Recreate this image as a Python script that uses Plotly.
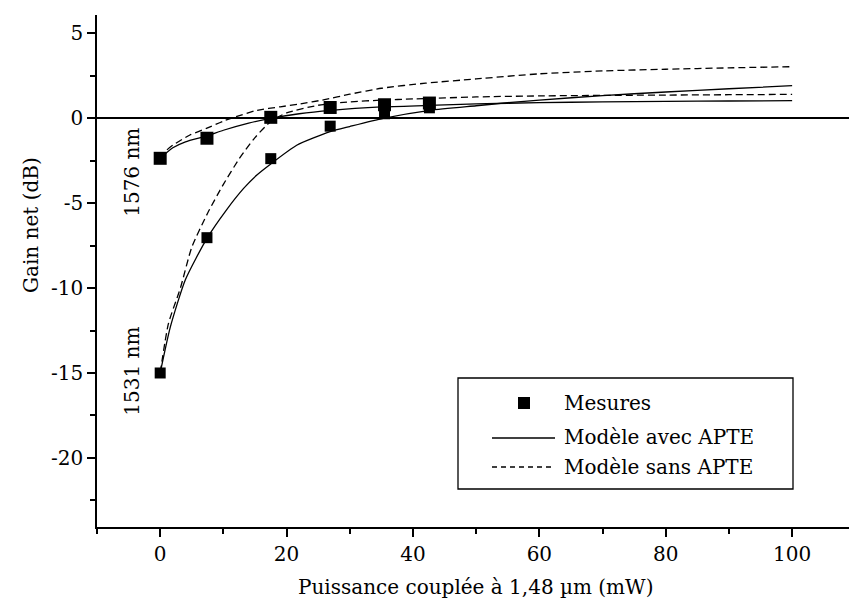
import plotly.graph_objects as go

# Measured net gain (dB) versus coupled pump power (mW)
power_meas = [0, 7.4, 17.5, 26.9, 35.5, 42.6]
gain_1576_meas = [-2.37, -1.19, 0.04, 0.62, 0.78, 0.88]
gain_1531_meas = [-15.0, -7.04, -2.39, -0.48, 0.25, 0.60]

# Model with APTE (solid curves)
power_avec_1576 = [0, 2, 4, 7.4, 10, 14, 17.5, 22, 27, 35, 42.5, 50, 60, 70, 80, 90, 100]
gain_avec_1576 = [-2.37, -1.75, -1.4, -1.05, -0.72, -0.3, -0.02, 0.25, 0.45, 0.65, 0.74, 0.83, 0.9, 0.95, 0.98, 1.0, 1.02]
power_avec_1531 = [0, 1.6, 4, 7.4, 10.5, 13.2, 15.3, 17.5, 21.6, 26.9, 30, 35.3, 42.7, 50, 55, 60, 70, 80, 90, 100]
gain_avec_1531 = [-15.0, -12.3, -9.5, -7.08, -5.4, -4.14, -3.35, -2.7, -1.6, -0.8, -0.5, -0.02, 0.45, 0.72, 0.9, 1.05, 1.32, 1.53, 1.72, 1.9]

# Model without APTE (dashed curves)
power_sans_1576 = [0, 1, 2, 4.7, 7.4, 10, 12, 15.3, 19, 22, 26, 30, 35, 42, 50, 60, 70, 80, 90, 100]
gain_sans_1576 = [-2.37, -1.9, -1.6, -1.0, -0.6, -0.18, 0.08, 0.45, 0.66, 0.82, 1.08, 1.4, 1.75, 2.05, 2.3, 2.6, 2.77, 2.87, 2.95, 3.02]
power_sans_1531 = [0, 1.3, 3.2, 5, 7.5, 10, 12.5, 15, 17.5, 20, 25, 30, 35, 40, 50, 60, 70, 80, 90, 100]
gain_sans_1531 = [-15.0, -12.1, -10.0, -7.6, -5.6, -3.9, -2.4, -1.15, -0.2, 0.3, 0.75, 0.95, 1.05, 1.12, 1.24, 1.3, 1.33, 1.35, 1.37, 1.39]

# Axis ticks and texts
x_tick_vals = [0, 20, 40, 60, 80, 100]
y_tick_vals = [-20, -15, -10, -5, 0, 5]
y_tick_text = ["-20", "-15", "-10", "-5", "0", "5"]
legend_labels = ["Mesures", "Modèle avec APTE", "Modèle sans APTE"]
curve_labels = ["1576 nm", "1531 nm"]
x_title = "Puissance couplée à 1,48 µm (mW)"
y_title = "Gain net (dB)"

FONT = "DejaVu Serif"
FS = 20
W, H = 849, 599
L, T, B = 97, 15, 72
PW, PH = W - L, H - T - B

def px(x):
    return (x - L) / PW

def py(y):
    return (H - B - y) / PH

fig = go.Figure()

for xs, ys, dash in [
    (power_avec_1576, gain_avec_1576, "solid"),
    (power_avec_1531, gain_avec_1531, "solid"),
    (power_sans_1576, gain_sans_1576, "7px,4px"),
    (power_sans_1531, gain_sans_1531, "7px,4px"),
]:
    fig.add_trace(go.Scatter(x=xs, y=ys, mode="lines",
                             line=dict(color="black", width=1.3, dash=dash, shape="spline", smoothing=0.6),
                             showlegend=False, hoverinfo="skip"))

fig.add_trace(go.Scatter(x=power_meas, y=gain_1576_meas, mode="markers",
                         marker=dict(symbol="square", size=13, color="black"), showlegend=False))
fig.add_trace(go.Scatter(x=power_meas, y=gain_1531_meas, mode="markers",
                         marker=dict(symbol="square", size=11, color="black"), showlegend=False))

# Curve labels next to the starting points
for lbl, yy in zip(curve_labels, [-3.2, -14.9]):
    fig.add_annotation(x=-4.4, y=yy, xref="x", yref="y", text=lbl, textangle=-90, showarrow=False,
                       xanchor="center", yanchor="middle", font=dict(family=FONT, size=FS, color="black"))

# Legend box
shapes = [
    dict(type="rect", x0=px(458), x1=px(793), y0=py(489), y1=py(378),
         line=dict(color="black", width=1.3), fillcolor="white"),
    dict(type="rect", x0=px(518), x1=px(530), y0=py(409), y1=py(397),
         line=dict(width=0), fillcolor="black"),
    dict(type="line", x0=px(492), x1=px(555), y0=py(438), y1=py(438),
         line=dict(color="black", width=1.3)),
    dict(type="line", x0=px(492), x1=px(555), y0=py(467), y1=py(467),
         line=dict(color="black", width=1.3, dash="5px,4px")),
]
for s in shapes:
    fig.add_shape(xref="paper", yref="paper", layer="above", **s)
for lbl, yy in zip(legend_labels, [403, 437, 467]):
    fig.add_annotation(x=px(562), y=py(yy), xref="paper", yref="paper", text=lbl, showarrow=False,
                       xanchor="left", yanchor="middle", font=dict(family=FONT, size=FS, color="black"))

# Axis titles
fig.add_annotation(x=px(31), y=py(225), xref="paper", yref="paper", text=y_title, textangle=-90,
                   showarrow=False, xanchor="center", yanchor="middle",
                   font=dict(family=FONT, size=FS, color="black"))
fig.add_annotation(x=px(475), y=py(587), xref="paper", yref="paper", text=x_title, showarrow=False,
                   xanchor="center", yanchor="middle", font=dict(family=FONT, size=FS, color="black"))

axis_common = dict(showgrid=False, showline=True, linecolor="black", linewidth=1.5, ticks="outside",
                   ticklen=8, tickwidth=1.5, tickcolor="black",
                   tickfont=dict(family=FONT, size=FS, color="black"))

fig.update_layout(
    width=W, height=H,
    margin=dict(l=L, r=0, t=T, b=B),
    plot_bgcolor="white", paper_bgcolor="white",
    showlegend=False,
    xaxis=dict(range=[-10, 109], tickmode="array", tickvals=x_tick_vals, zeroline=False,
               minor=dict(tick0=0, dtick=10, ticks="outside", ticklen=5, tickwidth=1.5, tickcolor="black"),
               **axis_common),
    yaxis=dict(range=[-24.06, 6.06], tickmode="array", tickvals=y_tick_vals, ticktext=y_tick_text,
               zeroline=True, zerolinecolor="black", zerolinewidth=1.5,
               minor=dict(tick0=0, dtick=2.5, ticks="outside", ticklen=5, tickwidth=1.5, tickcolor="black"),
               **axis_common),
)

fig.write_html("out.html")
